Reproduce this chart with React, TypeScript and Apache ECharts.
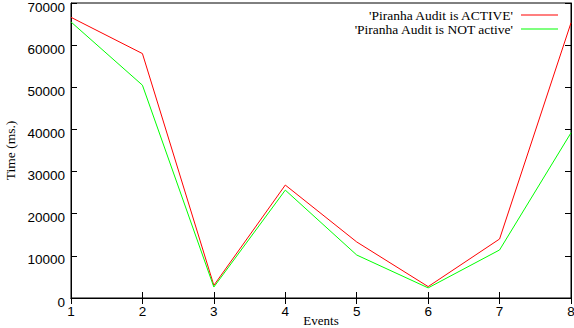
import React, { useEffect, useRef } from "react";
import * as echarts from "echarts";

const events = [1, 2, 3, 4, 5, 6, 7, 8];
const activeTimes = [66600, 58000, 3000, 26800, 13300, 2700, 14000, 65300];
const notActiveTimes = [65500, 50500, 2600, 25600, 10200, 2400, 11400, 39200];
const seriesNames = ["'Piranha Audit is ACTIVE'", "'Piranha Audit is NOT active'"];

export default function App() {
  const ref = useRef<HTMLDivElement>(null);
  useEffect(() => {
    const chart = echarts.init(ref.current!, null, { renderer: "svg" });
    const serif = "'Liberation Serif', 'Times New Roman', serif";
    const sans = "'Liberation Sans', Arial, sans-serif";
    const tick = { show: true, inside: true, length: 6, lineStyle: { color: "#000", width: 1 } };
    const plain = (v: number) => String(v);
    chart.setOption({
      animation: false,
      backgroundColor: "#fff",
      grid: {
        left: 71,
        right: 3,
        top: 3,
        bottom: 30,
        containLabel: false,
        outerBoundsMode: "none",
        show: true,
        borderColor: "#000",
        borderWidth: 1,
      },
      legend: {
        orient: "vertical",
        right: 16,
        top: 8,
        align: "right",
        itemGap: 0,
        itemWidth: 37,
        itemHeight: 1,
        icon: "rect",
        padding: 0,
        textStyle: { fontFamily: serif, fontSize: 13.5, color: "#000", lineHeight: 13, padding: [0, 3, 0, 0] },
        data: seriesNames,
      },
      xAxis: [
        {
          type: "value",
          min: 1,
          max: 8,
          interval: 1,
          name: "Events",
          nameLocation: "middle",
          nameGap: 16,
          nameMoveOverlap: false,
          nameTextStyle: { fontFamily: serif, fontSize: 13, color: "#000", lineHeight: 12 },
          axisLine: { show: true, lineStyle: { color: "#000", width: 1 } },
          axisTick: tick,
          splitLine: { show: false },
          axisLabel: { fontFamily: sans, fontSize: 13.5, color: "#000", margin: 6, formatter: plain },
        },
        {
          type: "value",
          position: "top",
          min: 1,
          max: 8,
          interval: 1,
          axisLine: { show: true, lineStyle: { color: "#000", width: 1 } },
          axisTick: tick,
          splitLine: { show: false },
          axisLabel: { show: false },
        },
      ],
      yAxis: [
        {
          type: "value",
          min: 0,
          max: 70000,
          interval: 10000,
          name: "Time (ms.)",
          nameLocation: "middle",
          nameGap: 54,
          nameRotate: 90,
          nameMoveOverlap: false,
          nameTextStyle: { fontFamily: serif, fontSize: 13.5, color: "#000" },
          axisLine: { show: true, lineStyle: { color: "#000", width: 1 } },
          axisTick: tick,
          splitLine: { show: false },
          axisLabel: {
            color: "#000",
            margin: 6,
            formatter: (v: number) => "{a|" + v + "}",
            rich: {
              a: { fontFamily: sans, fontSize: 13.5, color: "#000", lineHeight: 12, padding: [8, 0, 0, 0] },
            },
          },
        },
        {
          type: "value",
          position: "right",
          min: 0,
          max: 70000,
          interval: 10000,
          axisLine: { show: true, lineStyle: { color: "#000", width: 1 } },
          axisTick: tick,
          splitLine: { show: false },
          axisLabel: { show: false },
        },
      ],
      series: [
        {
          name: seriesNames[0],
          type: "line",
          xAxisIndex: 0,
          yAxisIndex: 0,
          data: events.map((e, i) => [e, activeTimes[i]]),
          showSymbol: false,
          symbol: "none",
          color: "#ff0000",
          lineStyle: { color: "#ff0000", width: 1 },
        },
        {
          name: seriesNames[1],
          type: "line",
          xAxisIndex: 0,
          yAxisIndex: 0,
          data: events.map((e, i) => [e, notActiveTimes[i]]),
          showSymbol: false,
          symbol: "none",
          color: "#00ff00",
          lineStyle: { color: "#00ff00", width: 1 },
        },
      ],
    });
    return () => chart.dispose();
  }, []);
  return (
    <div
      ref={ref}
      style={{ position: "fixed", left: 0, top: 0, width: 574, height: 328, background: "#fff" }}
    />
  );
}
